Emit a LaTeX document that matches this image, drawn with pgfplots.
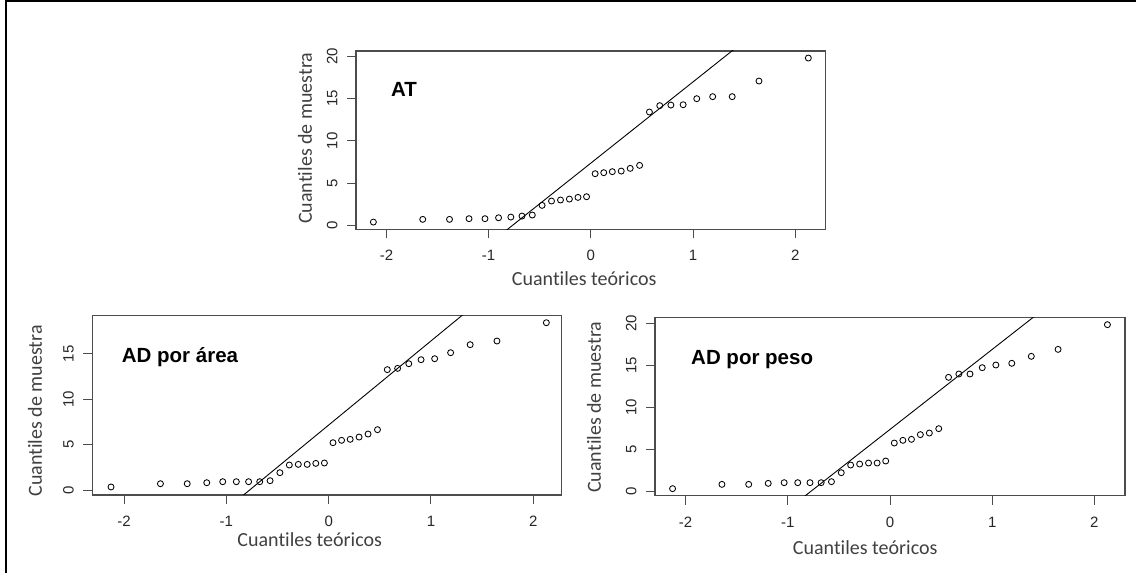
\documentclass[border=0pt]{standalone}
\usepackage{pgfplots}
\pgfplotsset{compat=1.18}
\usepackage{fontspec}
\setmainfont{Liberation Sans}
\newfontfamily\calfont[Ligatures=NoCommon]{Carlito}

\pgfplotstableread{
q y
-2.128 0.43
-1.645 0.75
-1.383 0.75
-1.192 0.83
-1.036 0.83
-0.903 0.94
-0.783 1.02
-0.674 1.14
-0.573 1.26
-0.477 2.40
-0.385 2.91
-0.297 3.03
-0.210 3.14
-0.126 3.34
-0.042 3.42
0.042 6.13
0.126 6.25
0.210 6.37
0.297 6.44
0.385 6.76
0.477 7.11
0.573 13.40
0.674 14.15
0.783 14.22
0.903 14.26
1.036 14.97
1.192 15.21
1.383 15.21
1.645 17.05
2.128 19.76
}\tabAT

\pgfplotstableread{
q y
-2.128 0.37
-1.645 0.73
-1.383 0.73
-1.192 0.84
-1.036 0.95
-0.903 0.95
-0.783 0.95
-0.674 0.95
-0.573 1.06
-0.477 1.94
-0.385 2.78
-0.297 2.85
-0.210 2.85
-0.126 2.96
-0.042 3.00
0.042 5.23
0.126 5.49
0.210 5.60
0.297 5.85
0.385 6.18
0.477 6.66
0.573 13.25
0.674 13.39
0.783 13.90
0.903 14.34
1.036 14.45
1.192 15.11
1.383 15.99
1.645 16.39
2.128 18.40
}\tabArea

\pgfplotstableread{
q y
-2.128 0.32
-1.645 0.83
-1.383 0.83
-1.192 0.95
-1.036 1.03
-0.903 1.03
-0.783 1.03
-0.674 1.03
-0.573 1.15
-0.477 2.22
-0.385 3.13
-0.297 3.25
-0.210 3.37
-0.126 3.37
-0.042 3.61
0.042 5.75
0.126 6.07
0.210 6.19
0.297 6.75
0.385 6.94
0.477 7.46
0.573 13.57
0.674 13.97
0.783 13.97
0.903 14.72
1.036 15.04
1.192 15.24
1.383 16.07
1.645 16.90
2.128 19.84
}\tabPeso

\pgfplotsset{
  qq/.style={
    scale only axis,
    axis line style={black!70, line width=1.1pt},
    tick pos=left, tick align=outside, major tick length=9pt,
    every tick/.style={black!70, line width=1pt},
    xtick={-2,-1,0,1,2}, xticklabels={-2,-1,0,1,2},
    ticklabel style={font=\fontsize{15}{17}\selectfont, text=black!85},
    xticklabel style={anchor=base, yshift=-22.4pt},
    yticklabel style={xshift=-9.7pt, rotate=90, anchor=base},
  },
  pts/.style={only marks, mark=o, mark size=3pt, mark options={line width=0.85pt, black}},
  ql/.style={black, line width=0.9pt, no marks},
}

\begin{document}
\begin{tikzpicture}
\path[use as bounding box] (0pt,0pt) rectangle (1136pt,573pt);
\draw[line width=2pt, black] (5.5pt,0pt) -- (5.5pt,571.5pt) -- (1136pt,571.5pt);

% top: AT
\begin{axis}[qq, at={(356pt,343.7pt)}, anchor=south west,
  width=469.7pt, height=178.3pt,
  xmin=-2.298, xmax=2.298, ymin=-0.42, ymax=20.59,
  ytick={0,5,10,15,20}, yticklabels={0,5,10,15,20}]
\addplot[ql] coordinates {(-2.4,-15.59) (2.4,30.35)};
\addplot[pts] table[x=q,y=y] {\tabAT};
\end{axis}

% bottom left: AD por area
\begin{axis}[qq, at={(92.3pt,78pt)}, anchor=south west,
  width=469.4pt, height=179.3pt,
  xmin=-2.311, xmax=2.278, ymin=-0.51, ymax=19.17,
  ytick={0,5,10,15}, yticklabels={0,5,10,15}]
\addplot[ql] coordinates {(-2.4,-14.98) (2.4,29.32)};
\addplot[pts] table[x=q,y=y] {\tabArea};
\end{axis}

% bottom right: AD por peso
\begin{axis}[qq, at={(655pt,77.3pt)}, anchor=south west,
  width=470pt, height=178pt,
  xmin=-2.30, xmax=2.30, ymin=-0.52, ymax=20.67,
  ytick={0,5,10,15,20}, yticklabels={0,5,10,15,20}]
\addplot[ql] coordinates {(-2.4,-15.48) (2.4,30.22)};
\addplot[pts] table[x=q,y=y] {\tabPeso};
\end{axis}

% titles
\node[anchor=base west, font=\bfseries\fontsize{20.5}{24}\selectfont, inner sep=0pt] at (391pt,476.3pt) {AT};
\node[anchor=base west, font=\bfseries\fontsize{20.5}{24}\selectfont, inner sep=0pt] at (121.7pt,210.7pt) {AD por área};
\node[anchor=base west, font=\bfseries\fontsize{20.5}{24}\selectfont, inner sep=0pt] at (691pt,208pt) {AD por peso};

% axis labels
\tikzset{lab/.style={font=\calfont\fontsize{20}{24}\selectfont, text=black!75, inner sep=0pt}}
\node[lab, anchor=base] at (584.2pt,287pt) {Cuantiles teóricos};
\node[lab, anchor=center, rotate=90] at (305pt,434.7pt) {Cuantiles de muestra};
\node[lab, anchor=base] at (309.7pt,26.3pt) {Cuantiles teóricos};
\node[lab, anchor=center, rotate=90] at (35pt,162.2pt) {Cuantiles de muestra};
\node[lab, anchor=base] at (865.2pt,18pt) {Cuantiles teóricos};
\node[lab, anchor=center, rotate=90] at (594pt,165.8pt) {Cuantiles de muestra};
\end{tikzpicture}
\end{document}
